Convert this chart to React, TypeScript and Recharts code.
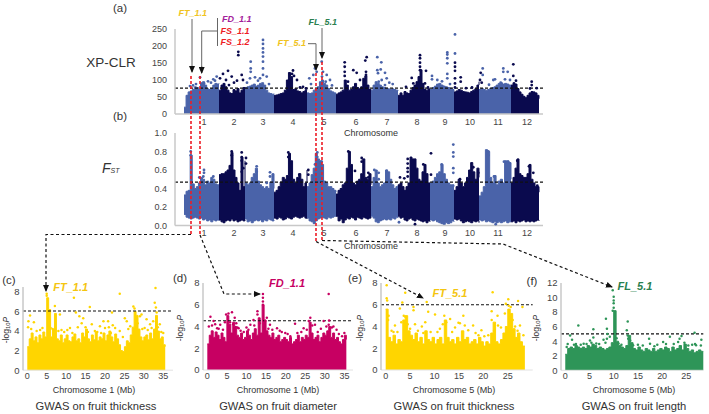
import { Area, ComposedChart, ReferenceLine, Scatter, XAxis, YAxis } from 'recharts'

type Pt = [number, number]

const NAVY = '#0a0a4e'
const BLUE = '#4a63a9'
const YELLOW = '#ffd500'
const MAGENTA = '#c70062'
const GREEN = '#2e9558'

const chromStarts = [0, 35, 61, 90, 123, 152, 187, 214, 246, 270, 295, 327]
const chromLengths = [35, 26, 29, 33, 29, 35, 27, 32, 24, 25, 32, 28]
const chromTicks = [20, 50, 79, 109, 140, 172, 203, 233, 261, 286, 314, 343]

const xpclrTop = [
  [20, 55, 65, 68, 72, 80, 78, 76, 92, 95, 85, 74, 72, 75, 85, 90, 88, 90],
  [70, 85, 90, 80, 70, 62, 60, 72, 68, 75, 62, 70, 78, 72],
  [78, 80, 82, 85, 88, 82, 85, 90, 92, 85, 70, 62, 60, 58, 60],
  [55, 56, 58, 60, 62, 70, 100, 122, 110, 72, 74, 68, 66, 62, 66, 70, 72],
  [62, 60, 62, 70, 75, 80, 95, 100, 90, 85, 75, 68, 65, 62, 60],
  [58, 62, 65, 70, 100, 85, 70, 72, 80, 90, 78, 74, 80, 105, 112, 85, 72, 65],
  [70, 85, 95, 90, 85, 80, 78, 76, 74, 72, 74, 72, 70, 68],
  [55, 62, 55, 66, 62, 60, 70, 78, 85, 95, 110, 130, 90, 72, 70, 74, 68],
  [72, 78, 82, 88, 90, 85, 82, 80, 78, 76, 72, 68],
  [65, 68, 72, 70, 66, 65, 64, 62, 66, 70, 74, 85, 95],
  [72, 75, 72, 70, 72, 75, 78, 80, 85, 90, 92, 88, 90, 88, 85, 80],
  [85, 92, 88, 75, 65, 58, 52, 48, 55, 62, 66, 65, 62, 55, 45],
]
const xpclrBlueDots: Pt[] = [
  [16, 108], [29.3, 102], [32.7, 110], [6, 82], [12, 88], [24, 96], [27, 92], [9, 84], [20, 90], [31, 98],
  [79, 218], [79, 206], [79, 193], [79, 181], [79, 169], [79, 154], [66.7, 154], [66.7, 134], [66.7, 124],
  [79, 134], [82.7, 110], [76, 105], [66, 105], [71, 108], [79, 115], [63, 92], [85, 88], [74, 98],
  [125.3, 105], [129.3, 115], [132.7, 124], [137.7, 154], [139, 124], [142.7, 115], [146, 100], [138, 110], [141.7, 95], [131, 134], [127, 88], [148, 84],
  [193.3, 167], [197.3, 152], [193.3, 129], [196.7, 131], [194, 120], [201, 121], [197.7, 100], [201, 85], [205.3, 92], [208.7, 88], [194.7, 95], [202.7, 105],
  [263.3, 181], [263.3, 175], [263.3, 164], [263.3, 149], [271, 234], [271, 178], [248, 112], [248, 102], [263.3, 118], [263.3, 105], [253.3, 100], [258, 96], [266, 88],
  [298.7, 134], [298.7, 115], [309.3, 100], [311, 102], [319.3, 134], [319.3, 124], [323.7, 124], [321, 102], [326, 100], [316.7, 92], [305, 86],
]
const xpclrNavyDots: Pt[] = [
  [54.3, 183], [54.3, 173], [44, 127], [39, 118], [47.7, 110], [57.7, 115], [59, 100], [42, 100], [50, 92], [36, 105], [53, 98], [45, 85],
  [109, 128], [108, 118], [110, 112], [113, 100], [122, 75], [116, 78], [119, 80],
  [160.7, 152], [160.7, 139], [160.7, 124], [160.7, 112], [169.3, 129], [172.7, 121], [182.7, 167], [181.3, 157], [182, 124], [182, 115], [164, 95], [176, 100],
  [236, 173], [236, 164], [236, 151], [236, 139], [236, 129], [227.7, 106], [242, 127], [241, 90], [229.3, 90], [222, 80], [244, 78],
  [271, 151], [271, 139], [271, 127], [271, 105], [271, 90], [271, 78], [276.7, 108], [276.7, 95], [282, 76], [288, 78],
  [296.7, 121], [296, 100], [297.7, 92],
  [329.3, 146], [329.3, 112], [347.7, 95], [347.7, 85], [346, 75], [352.7, 76], [332, 98],
]

const fstTop = [
  [0.33, 0.37, 0.38, 0.76, 0.45, 0.40, 0.42, 0.46, 0.52, 0.50, 0.44, 0.48, 0.46, 0.52, 0.50, 0.45, 0.44, 0.42],
  [0.55, 0.56, 0.56, 0.58, 0.60, 0.65, 0.79, 0.60, 0.52, 0.46, 0.38, 0.74, 0.42, 0.70],
  [0.46, 0.44, 0.46, 0.52, 0.56, 0.62, 0.48, 0.44, 0.42, 0.40, 0.42, 0.40, 0.47, 0.56, 0.40],
  [0.36, 0.38, 0.42, 0.47, 0.52, 0.50, 0.54, 0.78, 0.70, 0.50, 0.46, 0.52, 0.56, 0.50, 0.42, 0.46, 0.60],
  [0.42, 0.46, 0.55, 0.62, 0.78, 0.72, 0.70, 0.66, 0.48, 0.46, 0.42, 0.42, 0.40, 0.38, 0.36],
  [0.34, 0.38, 0.40, 0.44, 0.46, 0.62, 0.80, 0.66, 0.46, 0.44, 0.48, 0.50, 0.56, 0.72, 0.52, 0.50, 0.56, 0.44],
  [0.42, 0.52, 0.60, 0.46, 0.42, 0.44, 0.46, 0.60, 0.58, 0.50, 0.44, 0.40, 0.42, 0.44],
  [0.44, 0.46, 0.42, 0.38, 0.42, 0.46, 0.74, 0.72, 0.72, 0.62, 0.50, 0.48, 0.58, 0.66, 0.56, 0.46, 0.44],
  [0.46, 0.48, 0.52, 0.56, 0.58, 0.66, 0.56, 0.50, 0.46, 0.44, 0.44, 0.42],
  [0.38, 0.42, 0.50, 0.46, 0.42, 0.46, 0.52, 0.60, 0.68, 0.58, 0.50, 0.62, 0.52],
  [0.32, 0.36, 0.42, 0.82, 0.80, 0.52, 0.46, 0.54, 0.44, 0.48, 0.50, 0.46, 0.70, 0.70, 0.68, 0.50],
  [0.46, 0.52, 0.62, 0.72, 0.56, 0.54, 0.52, 0.52, 0.56, 0.66, 0.50, 0.46, 0.42, 0.42, 0.36],
]
const fstBottom = [
  [0.12, 0.09, 0.08, 0.07, 0.08, 0.09, 0.08, 0.07, 0.08, 0.06, 0.07, 0.05, 0.06, 0.04, 0.06, 0.05, 0.06, 0.05],
  [0.06, 0.04, 0.03, 0.05, 0.06, 0.05, 0.07, 0.05, 0.06, 0.04, 0.05, 0.06, 0.05, 0.06],
  [0.07, 0.04, 0.05, 0.03, 0.05, 0.06, 0.05, 0.06, 0.04, 0.06, 0.05, 0.07, 0.06, 0.05, 0.06],
  [0.08, 0.07, 0.09, 0.08, 0.06, 0.07, 0.09, 0.08, 0.07, 0.09, 0.10, 0.09, 0.08, 0.09, 0.10, 0.08, 0.07],
  [0.08, 0.05, 0.04, 0.02, 0.05, 0.07, 0.08, 0.09, 0.08, 0.07, 0.09, 0.08, 0.09, 0.10, 0.11],
  [0.10, 0.05, 0.07, 0.03, 0.06, 0.08, 0.07, 0.09, 0.08, 0.06, 0.09, 0.08, 0.07, 0.09, 0.08, 0.07, 0.08, 0.09],
  [0.10, 0.08, 0.04, 0.03, 0.05, 0.06, 0.07, 0.06, 0.07, 0.06, 0.08, 0.07, 0.09, 0.08],
  [0.10, 0.08, 0.09, 0.06, 0.05, 0.07, 0.08, 0.06, 0.05, 0.07, 0.06, 0.05, 0.04, 0.05, 0.03, 0.05, 0.04],
  [0.06, 0.05, 0.06, 0.04, 0.03, 0.02, 0.01, 0.03, 0.02, 0.03, 0.05, 0.04],
  [0.07, 0.06, 0.07, 0.05, 0.03, 0.04, 0.05, 0.04, 0.03, 0.05, 0.04, 0.05, 0.03],
  [0.06, 0.05, 0.06, 0.04, 0.05, 0.04, 0.03, 0.04, 0.03, 0.04, 0.03, 0.04, 0.05, 0.03, 0.04, 0.05],
  [0.04, 0.05, 0.03, 0.05, 0.04, 0.05, 0.06, 0.04, 0.05, 0.04, 0.05, 0.04, 0.05, 0.06, 0.05],
]
const fstBlueDots: Pt[] = [
  [20, 0.60], [20, 0.57], [19.3, 0.53], [6.7, 0.80], [6.7, 0.76], [15.3, 0.52], [29.3, 0.53],
  [72.7, 0.64], [72.7, 0.58], [86, 0.575], [86, 0.53], [82.7, 0.46],
  [133.3, 0.79], [133.3, 0.74], [137.7, 0.69], [131, 0.66],
  [190.3, 0.60], [194.7, 0.57], [202.7, 0.59], [194.7, 0.50],
  [269.3, 0.875], [269.3, 0.79], [269.3, 0.745], [269.3, 0.62], [269.3, 0.57], [257.7, 0.66],
  [304.3, 0.80], [304.3, 0.76], [310, 0.53], [320, 0.69], [324.3, 0.685], [311.7, 0.014], [215, 0.035],
]
const fstNavyDots: Pt[] = [
  [57.7, 0.79], [57.7, 0.74], [57.7, 0.70], [62, 0.73], [62, 0.67], [59.3, 0.62], [57.7, 0.58], [47.7, 0.80], [47.7, 0.76],
  [104.3, 0.79], [104.3, 0.74], [115.3, 0.55], [124.3, 0.60], [124.3, 0.55],
  [164.3, 0.80], [171, 0.59], [177.7, 0.73], [177.7, 0.69], [184.3, 0.57], [184.3, 0.52],
  [223.7, 0.72], [223.7, 0.67], [223.7, 0.62], [223.7, 0.58], [223.7, 0.53], [216, 0.52], [220.3, 0.51], [239.3, 0.66], [247, 0.78], [247, 0.55], [231, 0.014],
  [289.3, 0.63], [294.3, 0.57], [276, 0.50],
  [333.3, 0.70], [345, 0.64], [349.3, 0.57], [353.3, 0.43],
]

// half-megabase steps
const ftChr1Top = [
  2.4, 3.2, 3.8, 3.0, 3.4, 2.8, 3.6, 3.2, 3.9, 3.4,
  7.4, 6.2, 3.4, 4.2, 5.8, 3.2, 3.0, 3.6, 2.8, 3.2,
  3.6, 3.0, 2.9, 3.4, 3.7, 3.0, 3.2, 2.8, 3.8, 3.4,
  4.2, 3.2, 2.9, 3.6, 3.1, 3.9, 3.0, 3.4, 3.2, 3.8,
  3.0, 3.6, 4.0, 3.4, 2.9, 3.7, 3.2, 2.6, 2.0, 1.9,
  2.4, 3.0, 2.8, 3.6, 4.4, 6.0, 5.6, 4.2, 3.4, 3.0,
  3.4, 3.6, 3.1, 3.8, 3.2, 4.2, 5.6, 4.0, 3.2, 3.4, 2.6, 2.4,
]
const ftChr1Dots: Pt[] = [
  [23.8, 7.8], [33, 8.4], [12, 7.4], [7.1, 6.55], [16.1, 6.45], [12.5, 5.9], [8.4, 5.7], [0.7, 5.6], [1.7, 4.9], [0.3, 5],
  [14.4, 5.3], [13.4, 5.5], [21.8, 5.9], [27.3, 6.5], [27.6, 6.3], [29.4, 5.7], [29, 5.5], [30.7, 5.2], [32.8, 6.9], [33.1, 6.4],
  [33.3, 5.9], [34.1, 4.7], [19.6, 5], [20.8, 5], [25.1, 5.3], [25.6, 5], [23.8, 4], [22.6, 4.3], [18.7, 4.5], [16.6, 4.7],
  [11, 4.3], [8.8, 4.1], [3.3, 4.1], [2.4, 4], [35, 3.8], [31.6, 4.7], [32.4, 5], [5, 7.8], [5, 7.6],
  [0.2, 4.4], [1, 4.2], [3.9, 4.3], [6, 4.3], [6.5, 4.2], [8, 4], [9.5, 3.9], [10.3, 4.1], [11.6, 3.8], [13, 4.4],
  [14, 4.8], [15, 4.4], [15.6, 3.9], [17.4, 4], [18, 3.9], [19, 3.8], [20, 4.3], [21, 4.4], [21.5, 3.8], [22, 4.6],
  [24.6, 3.4], [26, 4.2], [26.5, 4.5], [28.4, 4.8], [29.6, 4.2], [30.2, 4.3], [31, 4.1], [32, 4.3], [33.6, 4.4], [34.5, 3.9],
]

const fdChr1Top = [
  2.4, 3.2, 3.6, 3.0, 3.5, 3.2, 2.8, 3.4, 3.0, 2.6,
  5.0, 4.2, 3.4, 4.4, 4.0, 3.2, 3.0, 3.4, 2.8, 3.0,
  3.6, 3.2, 2.8, 3.4, 3.8, 3.2, 4.8, 3.4, 6.0, 4.6,
  3.6, 3.2, 3.0, 3.4, 2.8, 3.0, 3.2, 2.6, 2.8, 3.0,
  2.8, 2.6, 3.0, 2.4, 2.6, 2.8, 3.2, 2.6, 3.0, 2.8,
  3.2, 3.0, 4.4, 3.4, 2.8, 3.0, 3.2, 2.6, 3.0, 3.4,
  3.2, 3.6, 4.0, 3.0, 3.4, 2.8, 3.0, 2.6, 2.4, 2.8, 3.2, 2.8,
]
const fdChr1Dots: Pt[] = [
  [14.2, 7], [31, 7], [14.2, 6.65], [14.2, 6.3], [14.2, 6], [12.8, 5.4], [12.8, 5.1], [5.4, 5.2], [6.3, 5.3], [4.8, 5.1],
  [0.8, 4.9], [1.6, 4.5], [7, 4.8], [7.4, 4.3], [8, 3.85], [16, 4.15], [17.8, 3.85], [22.4, 4.25], [26.3, 4.8], [25.9, 4.5],
  [29.7, 4.5], [31.1, 4.55], [27.5, 4.15], [32.2, 4], [33, 3.7], [35, 3.4], [11, 4.15], [11.8, 4.6], [9.3, 3.5], [3.3, 4.15],
  [2.5, 3.85], [19.9, 3.4], [24.6, 3.85], [21.2, 3.1], [15.2, 4.8], [14.8, 4.5], [31, 4.15],
  [0.4, 4], [1.2, 4.1], [2, 4.2], [2.9, 3.8], [4, 3.7], [4.5, 4.4], [5.8, 4.4], [6.6, 4.2], [7.7, 3.9], [8.5, 3.6],
  [10, 3.9], [10.5, 3.7], [12, 4.1], [13.4, 4.3], [15.6, 3.8], [16.6, 3.7], [18.5, 3.6], [19, 3.5], [20.5, 3.3], [23, 3.4],
  [24, 3.5], [25.4, 3.7], [26.8, 4.1], [28.2, 3.5], [29, 3.8], [30.4, 4], [31.8, 3.9], [33.6, 3.3], [34.4, 3.1],
]

const ftChr5Top = [
  5.6, 3.0, 2.6, 3.2, 2.4, 2.8, 2.6, 4.6, 5.0, 3.6,
  3.2, 2.8, 3.4, 2.6, 3.0, 2.4, 3.6, 2.8, 2.6, 3.0,
  2.4, 2.8, 3.0, 2.4, 4.6, 3.0, 2.6, 2.8, 2.4, 3.0,
  2.6, 3.6, 2.8, 3.0, 2.4, 2.6, 2.8, 2.4, 3.0, 2.6,
  2.2, 2.6, 2.4, 3.4, 4.4, 2.6, 2.4, 2.8, 3.4, 4.0,
  5.6, 5.2, 3.8, 3.0, 3.4, 2.6, 2.2, 2.2,
]
const ftChr5Dots: Pt[] = [
  [0.2, 7.8], [0.2, 6.6], [0.3, 6.4], [4, 7.1], [3.4, 6.2], [8.4, 6.25], [21.9, 7.15], [25.1, 6.5], [24.6, 6.1], [27.1, 6.35],
  [28, 5.8], [5.7, 5.8], [5.7, 5.5], [10.1, 5.1], [12, 5], [15.9, 5], [14.9, 4.35], [13.2, 4.7], [21.7, 5.4], [21.7, 4.6],
  [22.9, 5], [24.4, 5.2], [2.9, 5.65], [1.9, 4.1], [4, 4.9], [7.4, 4], [8.7, 5.35], [19.6, 3.65], [17.9, 4.1], [16.9, 3.65],
  [27.5, 4.1], [26.5, 4], [11.1, 3.8], [7.7, 3.4], [1.6, 3.5],
  [0.5, 4.6], [0.6, 5], [1.2, 3.6], [2.4, 3.5], [3.2, 4.4], [3.7, 5], [4.5, 4.2], [5, 3.8], [6, 4.2], [6.6, 3.6],
  [8.1, 4.4], [9.2, 3.5], [10.6, 3.5], [11.7, 4.2], [12.4, 4.4], [13.6, 3.5], [14.2, 3.9], [15.2, 4.3], [16.2, 4.1], [18.4, 3.4],
  [19, 3.2], [20.2, 3.1], [21, 3.2], [22.2, 3.6], [23, 4.1], [23.6, 3.9], [25.2, 5.9], [25.6, 5.8], [26, 4.6], [27, 3.6], [28.2, 3.2],
]

const flChr5Top = [
  2.2, 3.0, 3.2, 3.0, 3.4, 3.2, 3.0, 3.2, 3.0, 3.4,
  3.2, 3.6, 3.4, 3.0, 3.2, 3.0, 2.8, 3.0, 3.2, 3.8,
  8.2, 4.0, 3.4, 3.2, 3.0, 3.4, 4.8, 3.8, 3.0, 2.8,
  3.2, 2.8, 2.6, 3.0, 2.8, 2.6, 3.0, 2.6, 2.8, 3.0,
  2.8, 3.2, 3.0, 2.6, 3.2, 2.8, 3.0, 3.4, 2.8, 3.6,
  3.0, 2.6, 2.8, 2.4, 2.6, 2.8, 2.6, 2.6,
]
const flChr5Dots: Pt[] = [
  [9.8, 11], [10, 10.1], [10, 9.6], [10, 9.2], [10, 8.6], [9.8, 8.2], [8.4, 7.1], [12.9, 6.7], [2.7, 6.15], [5.8, 5.65],
  [8.6, 5.7], [8.7, 5], [8.6, 4.35], [12.7, 5.5], [12.9, 4.8], [13, 4.35], [26.7, 5.15], [24, 4.7], [23.6, 4.35], [1, 4.8],
  [1.4, 4.2], [0.3, 3.2], [3.8, 3.65], [5.1, 4.1], [5.8, 4.5], [7.9, 4.2], [17.3, 4.35], [21.6, 4.6], [17.5, 3.65], [28.1, 4.2],
  [27, 3.45], [23.3, 3.9], [14, 3.45], [20.2, 3.9],
  [0.5, 3.6], [1.8, 3.5], [2.2, 3.6], [3.2, 3.5], [4.4, 3.6], [5.4, 3.8], [6.4, 3.7], [7, 3.6], [8.3, 3.8], [9.2, 4.6],
  [10.6, 4.4], [11, 3.7], [11.6, 3.5], [13.4, 4.1], [15, 3.5], [16, 3.4], [18.4, 3.3], [19, 3.5], [20.8, 3.6], [22.4, 3.6],
  [24.6, 3.8], [25.4, 3.4], [26.2, 3.5], [26.8, 3.6], [28, 3.4],
]

const toDots = (pts: Pt[]) => pts.map(([x, y]) => ({ x, y }))

const dotShape = (color: string, r: number) => (props: any) =>
  <circle cx={props.cx} cy={props.cy} r={r} fill={color} />

const axisTick = { fontSize: 9, fill: '#444' }

function GenomePanel({ left, top, plotHeight, domain, ticks, format, threshold, seriesTop, seriesBottom, blueDots, navyDots }: any) {
  const chroms = chromStarts.map((start, c) => {
    const values: number[] = seriesTop[c]
    return values.map((v, i) => ({
      x: start + (i * chromLengths[c]) / (values.length - 1),
      v: seriesBottom ? [seriesBottom[c][i], v] : v,
    }))
  })
  return (
    <div style={{ position: 'absolute', left: left - 30, top: top - 8 }}>
      <ComposedChart width={398} height={plotHeight + 26} margin={{ top: 8, right: 0, bottom: 0, left: 0 }}>
        <XAxis
          dataKey="x"
          type="number"
          domain={[-9, 359]}
          ticks={chromTicks}
          interval={0}
          tickFormatter={(_v: number, i: number) => String(i + 1)}
          tick={axisTick}
          tickLine={false}
          tickSize={0}
          tickMargin={4.5}
          axisLine={{ stroke: '#c8c8c8', strokeWidth: 1.5 }}
          height={18}
        />
        <YAxis
          type="number"
          domain={domain}
          ticks={ticks}
          interval={0}
          tickFormatter={format}
          tick={axisTick}
          tickLine={false}
          axisLine={{ stroke: '#c8c8c8', strokeWidth: 1.5 }}
          width={30}
        />
        {chroms.map((rows, c) => (
          <Area
            key={c}
            data={rows}
            dataKey="v"
            type="stepAfter"
            fill={c % 2 ? NAVY : BLUE}
            fillOpacity={1}
            stroke={c % 2 ? NAVY : BLUE}
            strokeWidth={1}
            dot={false}
            activeDot={false}
            isAnimationActive={false}
          />
        ))}
        <Scatter data={toDots(blueDots)} dataKey="y" shape={dotShape(BLUE, 1.4)} isAnimationActive={false} />
        <Scatter data={toDots(navyDots)} dataKey="y" shape={dotShape(NAVY, 1.4)} isAnimationActive={false} />
        <ReferenceLine y={threshold} stroke="#111" strokeWidth={1.2} strokeDasharray="3 2" />
      </ComposedChart>
    </div>
  )
}

function GwasPanel({ left, top, width, plotHeight, xDomain, xTicks, yDomain, yTicks, threshold, color, values, dots }: any) {
  const rows = values.map((v: number, i: number) => ({ x: i / 2, v }))
  return (
    <div style={{ position: 'absolute', left: left - 20, top: top - 6 }}>
      <ComposedChart width={width + 28} height={plotHeight + 24} margin={{ top: 6, right: 8, bottom: 0, left: 0 }}>
        <XAxis
          dataKey="x"
          type="number"
          domain={xDomain}
          ticks={xTicks}
          interval={0}
          tick={axisTick}
          tickLine={false}
          tickSize={0}
          tickMargin={2.5}
          axisLine={{ stroke: '#e2e2e2' }}
          height={18}
        />
        <YAxis
          type="number"
          domain={yDomain}
          ticks={yTicks}
          interval={0}
          tick={{ fontSize: 9.5, fill: '#444' }}
          tickLine={false}
          tickSize={0}
          tickMargin={3.5}
          axisLine={{ stroke: '#c8c8c8', strokeWidth: 1.5 }}
          width={20}
        />
        <Area
          data={rows}
          dataKey="v"
          type="stepAfter"
          fill={color}
          fillOpacity={1}
          stroke={color}
          strokeWidth={1}
          dot={false}
          activeDot={false}
          isAnimationActive={false}
        />
        <Scatter data={toDots(dots)} dataKey="y" shape={dotShape(color, 1.25)} isAnimationActive={false} />
        <ReferenceLine y={threshold} stroke="#111" strokeWidth={1.2} strokeDasharray="3 2" />
      </ComposedChart>
    </div>
  )
}

function Label({ x, y, children, color = '#333', size = 9, bold = false, italic = false }: any) {
  return (
    <text
      x={x}
      y={y}
      fill={color}
      fontSize={size}
      fontWeight={bold ? 700 : 400}
      fontStyle={italic ? 'italic' : 'normal'}
      textAnchor="middle"
      dominantBaseline="central"
    >
      {children}
    </text>
  )
}

function LogP({ x, y }: { x: number; y: number }) {
  return (
    <text x={0} y={0} transform={`translate(${x} ${y}) rotate(-90)`} fill="#333" fontSize={8.5} textAnchor="middle" dominantBaseline="central">
      -log<tspan fontSize={6} dy={2}>10</tspan><tspan fontStyle="italic" dy={-2}>P</tspan>
    </text>
  )
}

function Overlay() {
  const red = { stroke: '#ee1c25', strokeWidth: 1.6, strokeDasharray: '3 2', fill: 'none' }
  const gray = { stroke: '#666', strokeWidth: 1, fill: 'none' }
  const dash = { stroke: '#111', strokeWidth: 1.2, strokeDasharray: '3 2.5', fill: 'none' }
  return (
    <svg width={709} height={414} style={{ position: 'absolute', left: 0, top: 0, pointerEvents: 'none' }}>
      <defs>
        <marker id="tip" markerWidth="7" markerHeight="6" refX="6" refY="3" orient="auto" markerUnits="userSpaceOnUse">
          <path d="M0,0 L7,3 L0,6 Z" fill="#111" />
        </marker>
      </defs>

      <path d="M191 76V235" {...red} />
      <path d="M200 76V235" {...red} />
      <path d="M316 73V241" {...red} />
      <path d="M322 62V240" {...red} />

      <path d="M192 19V72" {...gray} markerEnd="url(#tip)" />
      <path d="M217.5 18V46M217.5 31H201.7V73" {...gray} />
      <path d="M201.7 66V73" {...gray} markerEnd="url(#tip)" />
      <path d="M322 28V58" {...gray} markerEnd="url(#tip)" />
      <path d="M308 43.7H316V70" {...gray} markerEnd="url(#tip)" />

      <path d="M191 234.5H46V291" {...dash} markerEnd="url(#tip)" />
      <path d="M200 235L224 294H260" {...dash} markerEnd="url(#tip)" />
      <path d="M316 241.5L423 298" {...dash} markerEnd="url(#tip)" />
      <path d="M322 240.5L503 244L612 287" {...dash} markerEnd="url(#tip)" />

      <Label x={120} y={8} size={11.5}>(a)</Label>
      <Label x={120} y={116} size={11.5}>(b)</Label>
      <Label x={9} y={280} size={11.5}>(c)</Label>
      <Label x={180} y={278} size={11.5}>(d)</Label>
      <Label x={355} y={278} size={11.5}>(e)</Label>
      <Label x={532} y={281} size={11.5}>(f)</Label>

      <Label x={111} y={62} size={13.5}>XP-CLR</Label>
      <text x={102} y={168} fill="#333" fontSize={14} fontStyle="italic" dominantBaseline="central">
        F<tspan fontSize={7} dy={2}>ST</tspan>
      </text>

      <Label x={192.7} y={12.7} color="#f0c31e" bold italic>FT_1.1</Label>
      <Label x={236.7} y={19.3} color="#a3209a" bold italic>FD_1.1</Label>
      <Label x={235} y={31.3} color="#ee1c25" bold italic>FS_1.1</Label>
      <Label x={235} y={42} color="#ee1c25" bold italic>FS_1.2</Label>
      <Label x={322.7} y={21.7} color="#2a8050" bold italic>FL_5.1</Label>
      <Label x={291.7} y={42.7} color="#f0c31e" bold italic>FT_5.1</Label>

      <Label x={371} y={132.5}>Chromosome</Label>
      <Label x={371} y={245.5}>Chromosome</Label>

      <Label x={70.7} y={287.3} color="#f4c510" size={11} bold italic>FT_1.1</Label>
      <Label x={287} y={282.7} color="#c70062" size={11} bold italic>FD_1.1</Label>
      <Label x={450} y={293} color="#f4c510" size={11} bold italic>FT_5.1</Label>
      <Label x={635} y={286} color="#2a8050" size={11} bold italic>FL_5.1</Label>

      <LogP x={6} y={330} />
      <LogP x={180} y={328} />
      <LogP x={360} y={328} />
      <LogP x={536} y={328} />

      <Label x={94} y={390}>Chromosome 1 (Mb)</Label>
      <Label x={278} y={390}>Chromosome 1 (Mb)</Label>
      <Label x={454} y={390}>Chromosome 5 (Mb)</Label>
      <Label x={634} y={390}>Chromosome 5 (Mb)</Label>

      <Label x={96} y={406} size={11.2}>GWAS on fruit thickness</Label>
      <Label x={278} y={406} size={11.2}>GWAS on fruit diameter</Label>
      <Label x={454} y={406} size={11.2}>GWAS on fruit thickness</Label>
      <Label x={634} y={406} size={11.2}>GWAS on fruit length</Label>
    </svg>
  )
}

export default function App() {
  return (
    <div style={{ position: 'absolute', left: 0, top: 0, width: 709, height: 414, overflow: 'hidden', background: '#fff', fontFamily: '"Liberation Sans", Arial, sans-serif' }}>
      <GenomePanel
        left={175}
        top={29}
        plotHeight={85}
        domain={[0, 250]}
        ticks={[0, 50, 100, 150, 200, 250]}
        threshold={76}
        seriesTop={xpclrTop}
        blueDots={xpclrBlueDots}
        navyDots={xpclrNavyDots}
      />
      <GenomePanel
        left={175}
        top={133}
        plotHeight={92.5}
        domain={[0, 1]}
        ticks={[0, 0.2, 0.4, 0.6, 0.8, 1]}
        format={(v: number) => v.toFixed(1)}
        threshold={0.47}
        seriesTop={fstTop}
        seriesBottom={fstBottom}
        blueDots={fstBlueDots}
        navyDots={fstNavyDots}
      />
      <GwasPanel
        left={23}
        top={286.8}
        width={150}
        plotHeight={83.2}
        xDomain={[-1.1, 37.5]}
        xTicks={[0, 5, 10, 15, 20, 25, 30, 35]}
        yDomain={[0, 8.5]}
        yTicks={[0, 2, 4, 6, 8]}
        threshold={6.05}
        color={YELLOW}
        values={ftChr1Top}
        dots={ftChr1Dots}
      />
      <GwasPanel
        left={202.7}
        top={283}
        width={150}
        plotHeight={87}
        xDomain={[-1.1, 37.2]}
        xTicks={[0, 5, 10, 15, 20, 25, 30, 35]}
        yDomain={[0, 8]}
        yTicks={[0, 2, 4, 6, 8]}
        threshold={4.53}
        color={MAGENTA}
        values={fdChr1Top}
        dots={fdChr1Dots}
      />
      <GwasPanel
        left={381}
        top={283}
        width={151.7}
        plotHeight={87}
        xDomain={[-0.96, 30.1]}
        xTicks={[0, 5, 10, 15, 20, 25]}
        yDomain={[0, 8]}
        yTicks={[0, 2, 4, 6, 8]}
        threshold={6}
        color={YELLOW}
        values={ftChr5Top}
        dots={ftChr5Dots}
      />
      <GwasPanel
        left={560.7}
        top={282.7}
        width={142.3}
        plotHeight={87.3}
        xDomain={[-0.88, 28.4]}
        xTicks={[0, 5, 10, 15, 20, 25]}
        yDomain={[0, 12]}
        yTicks={[0, 2, 4, 6, 8, 10, 12]}
        threshold={5}
        color={GREEN}
        values={flChr5Top}
        dots={flChr5Dots}
      />
      <Overlay />
    </div>
  )
}
